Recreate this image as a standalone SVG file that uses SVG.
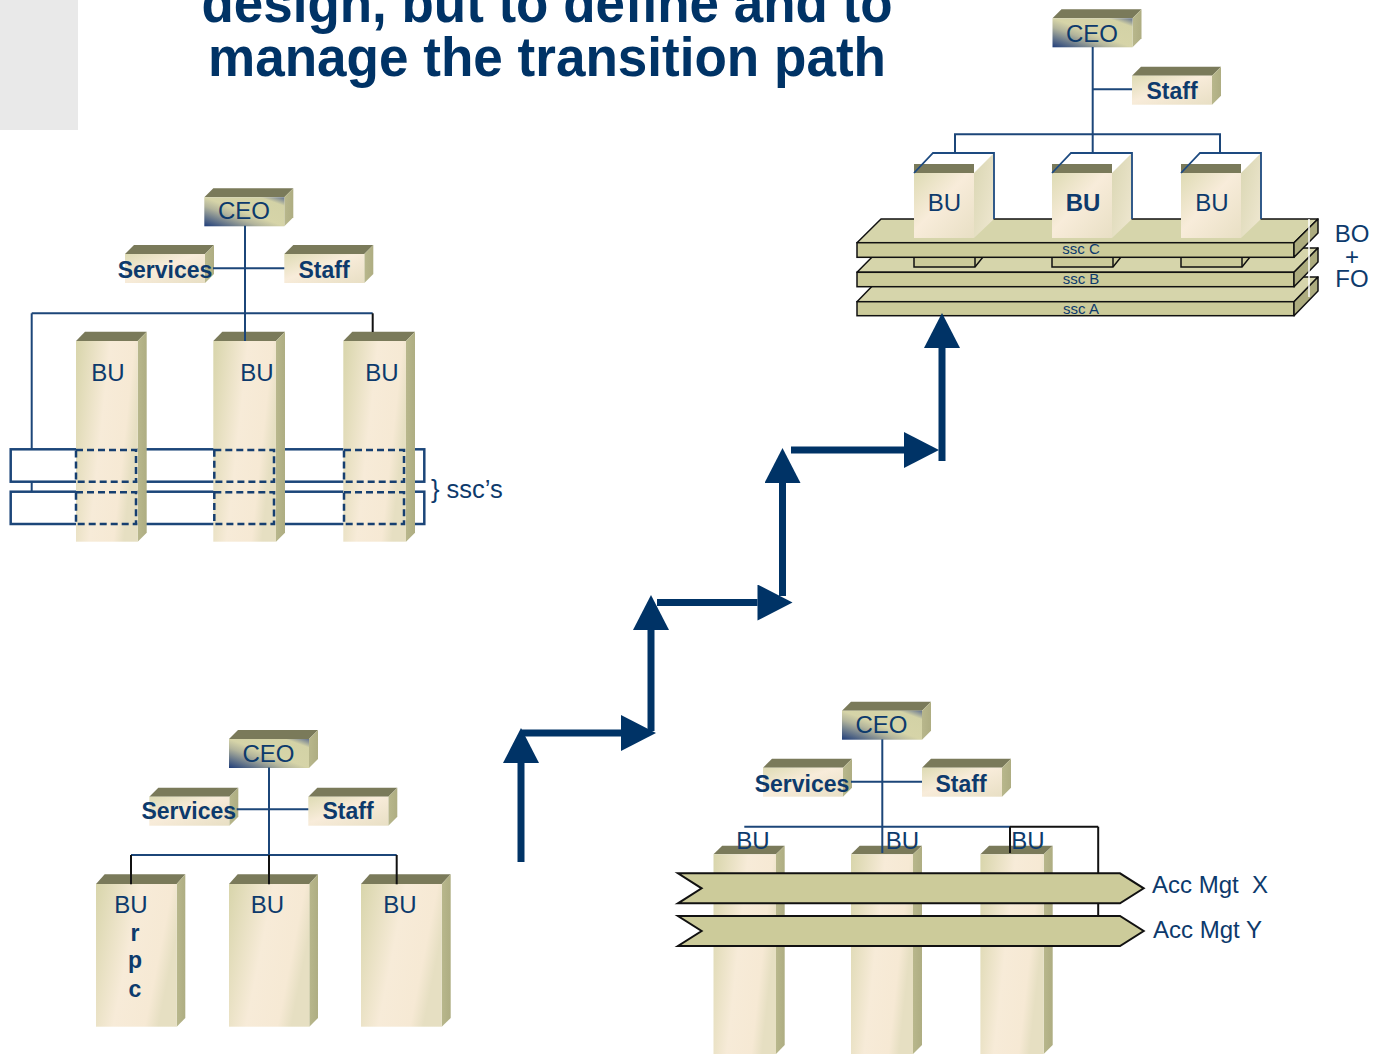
<svg xmlns="http://www.w3.org/2000/svg" width="1374" height="1054" viewBox="0 0 1374 1054">
<style>
.t{font-family:"Liberation Sans",Arial,sans-serif;fill:#0d3a6c;text-anchor:middle}
.lbl{font-size:24px}
.b{font-weight:bold;font-size:23px}
.title{font-family:"Liberation Sans",Arial,sans-serif;font-weight:bold;font-size:56px;fill:#003366;text-anchor:middle}
.top{fill:#7a7a5a}
.side{fill:url(#sideG)}
.conn{stroke:#1c4679;stroke-width:2;fill:none}
.blk{stroke:#111;stroke-width:2;fill:none}
.sscr{stroke:#1c4679;stroke-width:2.5;fill:#fff}
.dash{stroke:#163f70;stroke-width:2.5;fill:none;stroke-dasharray:7 4}
.slabT{fill:#d6d5ab;stroke:#111;stroke-width:1.5;stroke-linejoin:round}
.slabF{fill:#cccb9a;stroke:#111;stroke-width:1.5}
.slabS{fill:#adac7f;stroke:#111;stroke-width:1.5;stroke-linejoin:round}
.cubeO{stroke:#1d4a80;stroke-width:1.8;fill:none}
.ban{fill:#cccb9a;stroke:#111;stroke-width:2;stroke-linejoin:miter}
.arr{stroke:#003366;stroke-width:7;fill:none;marker-end:url(#ah)}
.ssc{font-size:15px}
</style>
<defs>
<linearGradient id="cream" x1="0" y1="0" x2="1" y2="1">
<stop offset="0" stop-color="#dedbb4"/><stop offset="0.45" stop-color="#f8ecda"/><stop offset="1" stop-color="#e8dfc4"/>
</linearGradient>
<linearGradient id="col" x1="0" y1="0" x2="1" y2="0.35">
<stop offset="0" stop-color="#d8d5ab"/><stop offset="0.5" stop-color="#f7ebd8"/><stop offset="0.85" stop-color="#f6e9d4"/><stop offset="1" stop-color="#e6dfc2"/>
</linearGradient>
<linearGradient id="ceo" x1="0" y1="1" x2="1" y2="0">
<stop offset="0" stop-color="#1f3d7a"/><stop offset="0.35" stop-color="#b2b49c"/><stop offset="0.5" stop-color="#d6d4a8"/><stop offset="0.85" stop-color="#d3d2a6"/><stop offset="1" stop-color="#63728f"/>
</linearGradient>
<linearGradient id="sideG" x1="0" y1="0" x2="1" y2="0">
<stop offset="0" stop-color="#b8b78c"/><stop offset="1" stop-color="#aead82"/>
</linearGradient>
<linearGradient id="cubeSide" x1="0" y1="0" x2="1" y2="1">
<stop offset="0" stop-color="#d9d6b2"/><stop offset="1" stop-color="#f0e8d2"/>
</linearGradient>
<g id="box">
<polygon class="top" points="0,0 9,-9 89,-9 80,0"/>
<polygon class="side" points="80,0 89,-9 89,20 80,29"/>
<rect x="0" y="0" width="80" height="29" fill="url(#cream)"/>
</g>
<g id="ceobox">
<polygon class="top" points="0,0 9,-9 89,-9 80,0"/>
<polygon class="side" points="80,0 89,-9 89,20 80,29"/>
<rect x="0" y="0" width="80" height="29" fill="url(#ceo)"/>
</g>
<marker id="ah" markerUnits="userSpaceOnUse" markerWidth="36" markerHeight="36" viewBox="0 0 35 36" refX="0" refY="18" orient="auto">
<path d="M0,0 L35,18 L0,36 z" fill="#003366"/>
</marker>
</defs>

<rect x="0" y="0" width="78" height="130" fill="#e9e9e9"/>
<g id="title">
<text class="title" x="547" y="21.7" textLength="691" lengthAdjust="spacingAndGlyphs">design, but to define and to</text>
<text class="title" x="547" y="76" textLength="678" lengthAdjust="spacingAndGlyphs">manage the transition path</text>
</g>

<!-- ===== Top-left chart ===== -->
<g id="tl-ssc">
<rect class="sscr" x="10.7" y="449.3" width="413.6" height="32.4"/>
<rect class="sscr" x="10.7" y="491.7" width="413.6" height="32.3"/>
<text class="t" x="431" y="498" style="text-anchor:start;font-size:25.5px">} ssc’s</text>
</g>
<g id="tl-ceo"><use href="#ceobox" x="204.3" y="197.3"/><text class="t lbl" x="244" y="219.3">CEO</text></g>
<g id="tl-services"><use href="#box" x="125" y="254"/><text class="t b" x="165" y="277.7">Services</text></g>
<g id="tl-staff"><use href="#box" x="284.3" y="254"/><text class="t b" x="324" y="277.7">Staff</text></g>
<g id="tl-bu1">
<polygon class="top" points="76,341 85,331.7 146.7,331.7 137.7,341"/>
<polygon class="side" points="137.7,341 146.7,331.7 146.7,532.7 137.7,541.7"/>
<rect x="76" y="341" width="61.7" height="200.7" fill="url(#col)"/>
<text class="t lbl" x="107.8" y="380.7">BU</text>
<rect class="dash" x="76" y="450" width="60" height="31.7"/>
<rect class="dash" x="76" y="492.3" width="60" height="31.7"/>
</g>
<g id="tl-bu2">
<polygon class="top" points="213.3,341 222.3,331.7 285,331.7 276,341"/>
<polygon class="side" points="276,341 285,331.7 285,532.7 276,541.7"/>
<rect x="213.3" y="341" width="62.7" height="200.7" fill="url(#col)"/>
<text class="t lbl" x="257" y="380.7">BU</text>
<rect class="dash" x="214.3" y="450" width="59.7" height="31.7"/>
<rect class="dash" x="214.3" y="492.3" width="59.7" height="31.7"/>
</g>
<g id="tl-bu3">
<polygon class="top" points="343.3,341 352.3,331.7 415,331.7 406,341"/>
<polygon class="side" points="406,341 415,331.7 415,532.7 406,541.7"/>
<rect x="343.3" y="341" width="62.7" height="200.7" fill="url(#col)"/>
<text class="t lbl" x="382" y="380.7">BU</text>
<rect class="dash" x="344" y="450" width="60" height="31.7"/>
<rect class="dash" x="344" y="492.3" width="60" height="31.7"/>
</g>

<!-- ===== Top-right chart ===== -->
<g id="tr-slabA">
<polygon class="slabT" points="857,301.7 881,277 1318,277 1294,301.7"/>
<rect class="slabF" x="857" y="301.7" width="437" height="14"/>
<polygon class="slabS" points="1294,301.7 1318,277 1318,291 1294,315.7"/>
<text class="t ssc" x="1081" y="314">ssc A</text>
</g>
<g id="tr-slabB">
<polygon class="slabT" points="857,272.3 881,248 1318,248 1294,272.3"/>
<rect class="slabF" x="857" y="272.3" width="437" height="14.4"/>
<polygon class="slabS" points="1294,272.3 1318,248 1318,262 1294,286.7"/>
<text class="t ssc" x="1081" y="284">ssc B</text>
<polygon class="slabF" points="914,257 983,257 975,267 914,267"/>
<line x1="975" y1="257" x2="975" y2="267" stroke="#111" stroke-width="1.5"/>
<polygon class="slabF" points="1052,257 1121,257 1113,267 1052,267"/>
<line x1="1113" y1="257" x2="1113" y2="267" stroke="#111" stroke-width="1.5"/>
<polygon class="slabF" points="1181,257 1250,257 1242,267 1181,267"/>
<line x1="1242" y1="257" x2="1242" y2="267" stroke="#111" stroke-width="1.5"/>
</g>
<g id="tr-slabC">
<polygon class="slabT" points="857,242.7 881,219 1318,219 1294,242.7"/>
<rect class="slabF" x="857" y="242.7" width="437" height="14.6"/>
<polygon class="slabS" points="1294,242.7 1318,219 1318,233 1294,257.3"/>
<text class="t ssc" x="1081" y="254.3">ssc C</text>
</g>
<line x1="1309" y1="219" x2="1309" y2="297" stroke="#fff" stroke-width="1.5"/>
<g id="tr-bofo">
<text class="t lbl" x="1352" y="241.7">BO</text>
<text class="t lbl" x="1352" y="264.5">+</text>
<text class="t lbl" x="1352" y="286.7">FO</text>
</g>
<g id="tr-bu1">
<polygon points="974,173 994,153 994,219 974,238" fill="url(#cubeSide)"/>
<rect x="914" y="173" width="60" height="65" fill="url(#cream)"/>
<rect x="914" y="164" width="60" height="9" class="top"/>
<path class="cubeO" d="M914,173 L933,153 L994,153 L994,219"/>
<text class="t lbl" x="944.5" y="210.7">BU</text>
</g>
<g id="tr-bu2">
<polygon points="1112,173 1132,153 1132,219 1112,238" fill="url(#cubeSide)"/>
<rect x="1052" y="173" width="60" height="65" fill="url(#cream)"/>
<rect x="1052" y="164" width="60" height="9" class="top"/>
<path class="cubeO" d="M1052,173 L1071,153 L1132,153 L1132,219"/>
<text class="t lbl" x="1083" y="210.7" font-weight="bold">BU</text>
</g>
<g id="tr-bu3">
<polygon points="1241,173 1261,153 1261,219 1241,238" fill="url(#cubeSide)"/>
<rect x="1181" y="173" width="60" height="65" fill="url(#cream)"/>
<rect x="1181" y="164" width="60" height="9" class="top"/>
<path class="cubeO" d="M1181,173 L1200,153 L1261,153 L1261,219"/>
<text class="t lbl" x="1212" y="210.7">BU</text>
</g>
<g id="tr-ceo"><use href="#ceobox" x="1052.5" y="18.3"/><text class="t lbl" x="1092" y="41.7">CEO</text></g>
<g id="tr-staff"><use href="#box" x="1132" y="75.7"/><text class="t b" x="1172" y="98.7">Staff</text></g>

<!-- ===== Bottom-left chart ===== -->
<g id="bl-ceo"><use href="#ceobox" x="229" y="739"/><text class="t lbl" x="268.5" y="761.7">CEO</text></g>
<g id="bl-services"><use href="#box" x="149.3" y="796.7"/><text class="t b" x="188.7" y="819.3">Services</text></g>
<g id="bl-staff"><use href="#box" x="308.3" y="796.7"/><text class="t b" x="348" y="819.3">Staff</text></g>
<g id="bl-bu1">
<polygon class="top" points="96,884 104.7,874.3 185.3,874.3 176.7,884"/>
<polygon class="side" points="176.7,884 185.3,874.3 185.3,1018 176.7,1026.7"/>
<rect x="96" y="884" width="80.7" height="142.7" fill="url(#col)"/>
<text class="t lbl" x="131" y="913.3">BU</text>
<text class="t b" x="135" y="941">r</text>
<text class="t b" x="135" y="968.3">p</text>
<text class="t b" x="135" y="997.3">c</text>
</g>
<g id="bl-bu2">
<polygon class="top" points="229,884 237.7,874.3 318,874.3 309.3,884"/>
<polygon class="side" points="309.3,884 318,874.3 318,1018 309.3,1026.7"/>
<rect x="229" y="884" width="80.3" height="142.7" fill="url(#col)"/>
<text class="t lbl" x="267.5" y="913.3">BU</text>
</g>
<g id="bl-bu3">
<polygon class="top" points="361,884 369.7,874.3 450.7,874.3 441.7,884"/>
<polygon class="side" points="441.7,884 450.7,874.3 450.7,1018 441.7,1026.7"/>
<rect x="361" y="884" width="80.7" height="142.7" fill="url(#col)"/>
<text class="t lbl" x="400" y="913.3">BU</text>
</g>

<!-- ===== Bottom-right chart ===== -->
<g id="br-ceo"><use href="#ceobox" x="842" y="710.7"/><text class="t lbl" x="881.5" y="733.3">CEO</text></g>
<g id="br-services"><use href="#box" x="763" y="767.7"/><text class="t b" x="802" y="791.7">Services</text></g>
<g id="br-staff"><use href="#box" x="922" y="767.7"/><text class="t b" x="961" y="791.7">Staff</text></g>
<g id="br-bu1">
<polygon class="top" points="713.5,854.3 722.2,845.7 784.7,845.7 776,854.3"/>
<polygon class="side" points="776,854.3 784.7,845.7 784.7,1045 776,1054"/>
<rect x="713.5" y="854.3" width="62.5" height="200" fill="url(#col)"/>
</g>
<g id="br-bu2">
<polygon class="top" points="851,854.3 859.7,845.7 922,845.7 913,854.3"/>
<polygon class="side" points="913,854.3 922,845.7 922,1045 913,1054"/>
<rect x="851" y="854.3" width="62" height="200" fill="url(#col)"/>
</g>
<g id="br-bu3">
<polygon class="top" points="980.4,854.3 989.1,845.7 1052.7,845.7 1043.7,854.3"/>
<polygon class="side" points="1043.7,854.3 1052.7,845.7 1052.7,1045 1043.7,1054"/>
<rect x="980.4" y="854.3" width="63.3" height="200" fill="url(#col)"/>
</g>
<g id="br-accx">
<polygon class="ban" points="678,873.3 1120,873.3 1143.7,888.3 1120,903.3 678,903.3 701.6,888.3"/>
<text class="t lbl" x="1152" y="892.7" style="text-anchor:start;white-space:pre">Acc Mgt  X</text>
</g>
<g id="br-accy">
<polygon class="ban" points="678,916 1120,916 1143.7,931 1120,946 678,946 701.6,931"/>
<text class="t lbl" x="1153" y="938.3" style="text-anchor:start">Acc Mgt Y</text>
</g>
<g id="br-bulabels">
<text class="t lbl" x="753" y="849.3">BU</text>
<text class="t lbl" x="902.5" y="849.3">BU</text>
<text class="t lbl" x="1028" y="849.3">BU</text>
</g>

<!-- ===== Connectors ===== -->
<g id="connectors">
<line class="conn" x1="245" y1="225.7" x2="245" y2="341"/>
<line class="conn" x1="213" y1="268.3" x2="284.3" y2="268.3"/>
<line class="conn" x1="31.7" y1="313.3" x2="372.7" y2="313.3"/>
<line class="conn" x1="31.7" y1="313.3" x2="31.7" y2="449.3"/>
<line class="conn" x1="31.7" y1="481.7" x2="31.7" y2="491.7"/>
<line class="blk" x1="372.7" y1="313.3" x2="372.7" y2="332"/>
<line class="conn" x1="1092.7" y1="47" x2="1092.7" y2="153"/>
<line class="conn" x1="1092.7" y1="89.3" x2="1132" y2="89.3"/>
<polyline class="conn" points="955,153 955,134.3 1220,134.3 1220,153"/>
<line class="conn" x1="269" y1="767.5" x2="269" y2="855"/>
<line class="conn" x1="236.7" y1="809.3" x2="308.3" y2="809.3"/>
<line class="conn" x1="131" y1="855" x2="396.7" y2="855"/>
<line class="blk" x1="131" y1="855" x2="131" y2="884.3"/>
<line class="blk" x1="269" y1="855" x2="269" y2="884.3"/>
<line class="blk" x1="396.7" y1="855" x2="396.7" y2="884.3"/>
<line class="conn" x1="882.3" y1="739.3" x2="882.3" y2="853"/>
<line class="conn" x1="851" y1="781.7" x2="922" y2="781.7"/>
<line class="conn" x1="744.3" y1="826.7" x2="1010" y2="826.7"/>
<line class="blk" x1="1010" y1="826.7" x2="1098.2" y2="826.7"/>
<line class="blk" x1="1010" y1="826.7" x2="1010" y2="853"/>
<line class="blk" x1="1098.2" y1="826.7" x2="1098.2" y2="873.3"/>
<line class="blk" x1="1098.2" y1="903.3" x2="1098.2" y2="916"/>
<line class="arr" x1="521" y1="862" x2="521" y2="763"/>
<line class="arr" x1="521" y1="733" x2="621" y2="733"/>
<line class="arr" x1="651" y1="731" x2="651" y2="630"/>
<line class="arr" x1="657" y1="602.5" x2="757.5" y2="602.5"/>
<line class="arr" x1="782.5" y1="596" x2="782.5" y2="483"/>
<line class="arr" x1="791" y1="450" x2="904" y2="450"/>
<line class="arr" x1="942" y1="461" x2="942" y2="348"/>
</g>
</svg>
